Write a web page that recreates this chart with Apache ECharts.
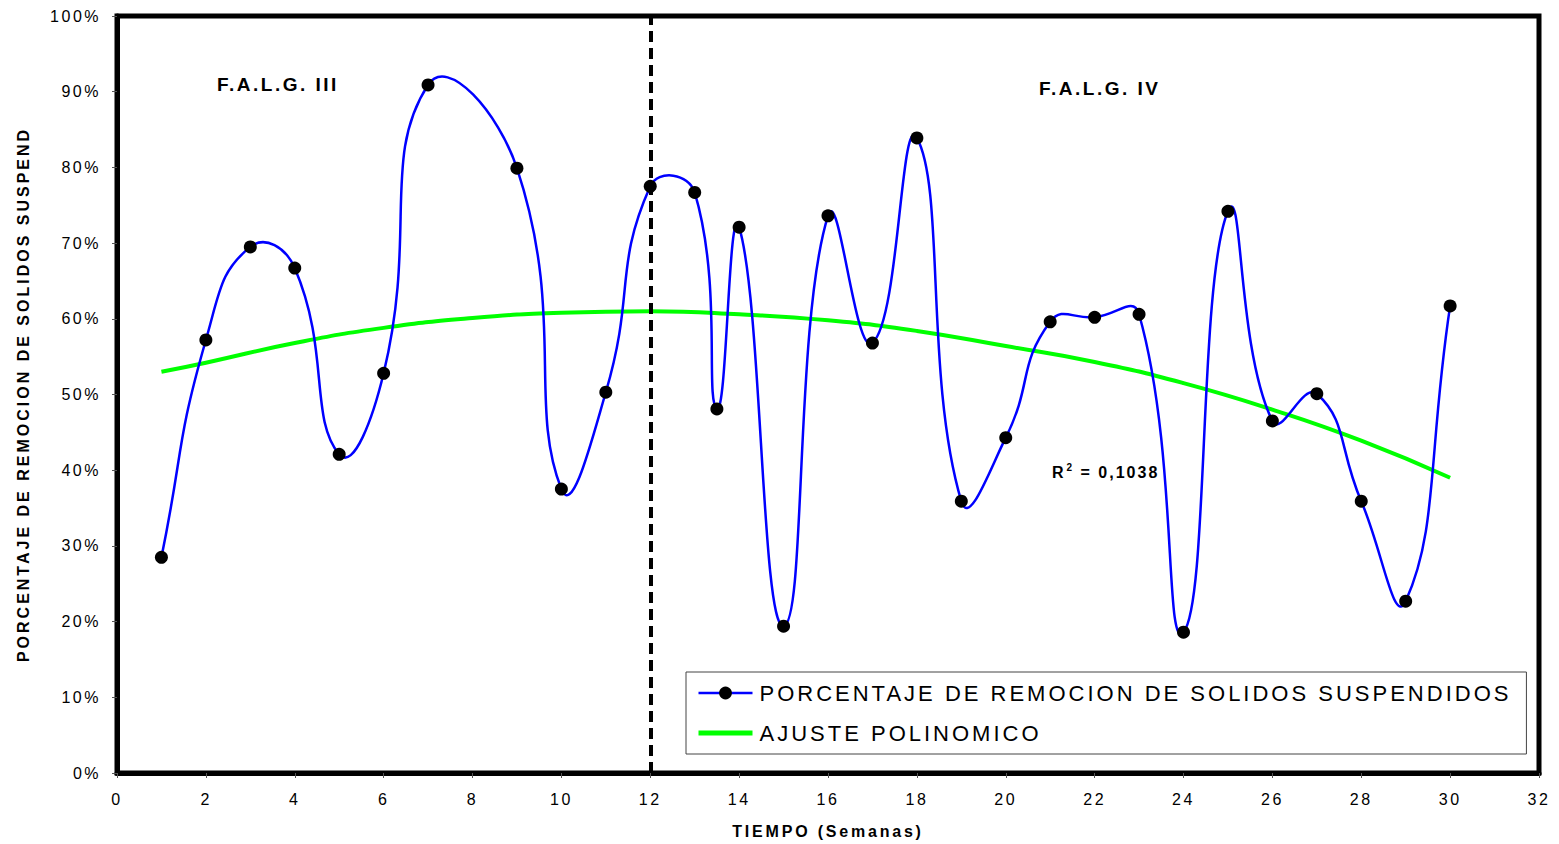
<!DOCTYPE html>
<html>
<head>
<meta charset="utf-8">
<script src="https://cdn.jsdelivr.net/npm/echarts@6/dist/echarts.min.js"></script>
<style>
  html, body { margin: 0; padding: 0; background: #fff; }
  #chart { width: 1559px; height: 844px; }
</style>
</head>
<body>
<div id="chart"></div>
<script>
// Weeks of sampling (13.5 is an intermediate sample) and removal percentage
const semanas = [1, 2, 3, 4, 5, 6, 7, 9, 10, 11, 12, 13, 13.5, 14, 15, 16, 17, 18, 19, 20, 21, 22, 23, 24, 25, 26, 27, 28, 29, 30];
const remocion = [28.5, 57.2, 69.5, 66.7, 42.1, 52.8, 90.9, 79.9, 37.5, 50.3, 77.5, 76.7, 48.1, 72.1, 19.4, 73.6, 56.8, 83.9, 35.9, 44.3, 59.6, 60.2, 60.6, 18.6, 74.2, 46.5, 50.1, 35.9, 22.7, 61.7];

// Polynomial trend curve values
const ajusteX = [1, 2, 4, 6, 8, 10, 12, 14, 16, 18, 20, 22, 24, 26, 28, 30];
const ajusteY = [53.0, 54.2, 56.8, 58.8, 60.1, 60.8, 61.0, 60.6, 59.8, 58.4, 56.4, 54.3, 51.5, 48.0, 43.9, 39.0];

// Boundary between the two filter phases
const cambioFase = 12;

const nombreSerie = 'PORCENTAJE DE REMOCION DE SOLIDOS SUSPENDIDOS';
const nombreAjuste = 'AJUSTE POLINOMICO';

const puntos = semanas.map((x, i) => [x, remocion[i]]);
const FONT = 'Liberation Sans, Arial, sans-serif';
const TENSION = 0.5;

function dist(a, b) { return Math.hypot(b[0] - a[0], b[1] - a[1]); }

// Smoothed segment between point i and i+1: Bezier whose tangents follow the
// neighbouring points, weighted by the lengths of the adjacent segments.
function renderSegmento(params, api) {
  const i = params.dataIndex;
  const n = puntos.length;
  if (i >= n - 1) return null;
  const c = (k) => api.coord(puntos[Math.max(0, Math.min(n - 1, k))]);
  const p0 = c(i - 1), p1 = c(i), p2 = c(i + 1), p3 = c(i + 2);
  const d01 = dist(p0, p1), d12 = dist(p1, p2), d23 = dist(p2, p3);
  const f1 = TENSION * d12 / ((d01 + d12) || 1);
  const f2 = TENSION * d12 / ((d12 + d23) || 1);
  return {
    type: 'bezierCurve',
    shape: {
      x1: p1[0], y1: p1[1],
      x2: p2[0], y2: p2[1],
      cpx1: p1[0] + (p2[0] - p0[0]) * f1,
      cpy1: p1[1] + (p2[1] - p0[1]) * f1,
      cpx2: p2[0] - (p3[0] - p1[0]) * f2,
      cpy2: p2[1] - (p3[1] - p1[1]) * f2
    },
    style: { stroke: '#0000ff', lineWidth: 2.5, fill: null }
  };
}

const chart = echarts.init(document.getElementById('chart'), null, { renderer: 'svg' });

chart.setOption({
  animation: false,
  backgroundColor: '#ffffff',
  textStyle: { fontFamily: FONT },
  grid: {
    left: 117, right: 20, top: 16, bottom: 71,
    show: true, borderColor: '#000', borderWidth: 5, backgroundColor: '#fff'
  },
  xAxis: {
    type: 'value', min: 0, max: 32, interval: 2,
    name: 'TIEMPO (Semanas)', nameLocation: 'middle', nameGap: 50,
    nameTextStyle: { fontSize: 16, fontWeight: 'bold', color: '#000' },
    axisLine: { show: true, lineStyle: { color: '#000', width: 5 } },
    axisTick: { show: true, length: 5, lineStyle: { color: '#555', width: 1 } },
    axisLabel: { fontSize: 16, color: '#000', margin: 18 },
    splitLine: { show: false }
  },
  yAxis: {
    type: 'value', min: 0, max: 100, interval: 10,
    name: 'PORCENTAJE DE REMOCION DE SOLIDOS SUSPEND', nameLocation: 'middle', nameGap: 86,
    nameTextStyle: { fontSize: 16, fontWeight: 'bold', color: '#000' },
    axisLine: { show: true, lineStyle: { color: '#000', width: 5 } },
    axisTick: { show: true, length: 5, lineStyle: { color: '#555', width: 1 } },
    axisLabel: { fontSize: 16, color: '#000', margin: 16, formatter: '{value}%' },
    splitLine: { show: false }
  },
  legend: {
    orient: 'vertical',
    left: 686, top: 672,
    padding: [10, 150, 10, 10],
    itemGap: 18,
    itemWidth: 54, itemHeight: 16,
    backgroundColor: '#fff',
    borderColor: '#444', borderWidth: 1,
    textStyle: { fontSize: 22, color: '#000', padding: [0, 0, 0, 2] },
    data: [
      { name: nombreSerie, lineStyle: { color: '#0000ff', width: 2.5, opacity: 1 }, itemStyle: { color: '#000' } },
      { name: nombreAjuste, lineStyle: { color: '#00ff00', width: 5 }, itemStyle: { opacity: 0 } }
    ]
  },
  series: [
    {
      name: nombreAjuste,
      type: 'line',
      data: ajusteX.map((x, i) => [x, ajusteY[i]]),
      smooth: true,
      symbol: 'none',
      lineStyle: { color: '#00ff00', width: 4 },
      itemStyle: { color: '#00ff00' },
      z: 2
    },
    {
      // smoothed connecting curve through the measured points
      type: 'custom',
      data: puntos,
      encode: { x: 0, y: 1 },
      renderItem: renderSegmento,
      clip: false,
      silent: true,
      z: 3,
      markLine: {
        silent: true,
        symbol: 'none',
        label: { show: false },
        lineStyle: { color: '#000', width: 4, type: [11, 6] },
        data: [{ xAxis: cambioFase }]
      }
    },
    {
      name: nombreSerie,
      type: 'line',
      data: puntos,
      symbol: 'circle',
      symbolSize: 13,
      lineStyle: { color: '#0000ff', width: 0, opacity: 0 },
      itemStyle: { color: '#000' },
      z: 4
    }
  ],
  graphic: [
    { type: 'text', left: 217, top: 75, style: { text: 'F.A.L.G. III', font: 'bold 19px ' + FONT, fill: '#000' } },
    { type: 'text', left: 1039, top: 79, style: { text: 'F.A.L.G. IV', font: 'bold 19px ' + FONT, fill: '#000' } },
    {
      type: 'text', left: 1052, top: 462,
      style: {
        text: '{r|R}{s|2}{r| = 0,1038}',
        fill: '#000',
        rich: {
          r: { fontSize: 16, fontWeight: 'bold', fontFamily: FONT, lineHeight: 20 },
          s: { fontSize: 10, fontWeight: 'bold', fontFamily: FONT, verticalAlign: 'top', padding: [0, 2, 0, 3] }
        }
      }
    }
  ]
});

// Letter spacing for the drawn texts
function espaciar() {
  document.querySelectorAll('#chart text').forEach((el) => {
    const s = el.textContent || '';
    let ls = 3;
    if (s.indexOf('F.A.L.G.') === 0) ls = 2.5;
    else if (s === 'R' || s === '2' || s.indexOf('0,1038') >= 0) ls = 2;
    else if (s === 'TIEMPO (Semanas)') ls = 2.8;
    else if (/^\d+%?$/.test(s)) ls = 2.5;
    el.style.letterSpacing = ls + 'px';
  });
}
espaciar();
chart.on('finished', espaciar);
setTimeout(espaciar, 0);
</script>
</body>
</html>
